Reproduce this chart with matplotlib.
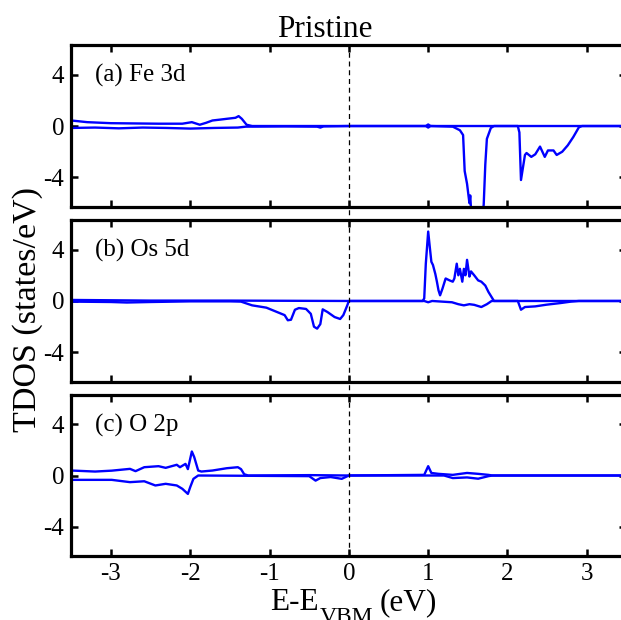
import numpy as np
import matplotlib.pyplot as plt
from matplotlib.lines import Line2D
from matplotlib.transforms import blended_transform_factory

plt.rcParams['font.family'] = ['Liberation Serif', 'DejaVu Serif']

# (energy, DOS) pairs, spin up (+) and spin down (-)
fe_up = [(-3.5, 0.43), (-3.3, 0.3), (-3.0, 0.22), (-2.7, 0.2), (-2.4, 0.18),
         (-2.1, 0.18), (-1.98, 0.3), (-1.88, 0.1), (-1.8, 0.25), (-1.72, 0.43),
         (-1.62, 0.5), (-1.54, 0.56), (-1.43, 0.64), (-1.39, 0.77), (-1.35, 0.56),
         (-1.29, 0.1), (-1.22, 0.0), (0.0, 0.0), (0.97, 0.0), (1.0, 0.12),
         (1.03, 0.0), (3.5, 0.0)]
fe_dn = [(-3.5, -0.15), (-3.2, -0.12), (-2.9, -0.18), (-2.6, -0.12), (-2.3, -0.15),
         (-2.0, -0.2), (-1.7, -0.15), (-1.4, -0.12), (-1.3, -0.05), (-0.8, -0.03),
         (-0.4, -0.05), (-0.36, -0.12), (-0.32, -0.03), (0.0, 0.0), (0.97, 0.0),
         (1.0, -0.12), (1.03, 0.0), (1.31, -0.05), (1.40, -0.33), (1.44, -0.7),
         (1.46, -3.5), (1.49, -4.5), (1.50, -5.0), (1.52, -6.0), (1.53, -5.4),
         (1.55, -7.5), (1.68, -7.5), (1.70, -6.1), (1.72, -3.0), (1.74, -1.0),
         (1.79, -0.15), (1.83, 0.0), (2.13, 0.0), (2.15, -0.5), (2.17, -4.2),
         (2.22, -2.25), (2.24, -2.1), (2.30, -2.4), (2.35, -2.2), (2.41, -1.6),
         (2.47, -2.4), (2.51, -1.9), (2.58, -1.9), (2.62, -2.25), (2.69, -2.0),
         (2.76, -1.5), (2.83, -0.85), (2.90, -0.1), (2.94, 0.0), (3.5, 0.0)]

os_up = [(-3.5, 0.08), (-2.5, 0.03), (-1.5, 0.03), (0.0, 0.0), (0.93, 0.0),
         (0.95, 0.2), (0.97, 2.9), (1.00, 5.4), (1.02, 4.2), (1.04, 3.05),
         (1.06, 2.8), (1.09, 2.1), (1.11, 1.5), (1.13, 0.83), (1.15, 0.44),
         (1.18, 0.96), (1.22, 1.75), (1.27, 1.6), (1.31, 1.5), (1.33, 1.75),
         (1.36, 2.9), (1.38, 2.0), (1.40, 2.5), (1.43, 1.5), (1.45, 2.5),
         (1.47, 2.0), (1.49, 3.2), (1.52, 1.9), (1.54, 2.3), (1.58, 2.0),
         (1.63, 1.6), (1.67, 1.5), (1.72, 1.2), (1.76, 0.7), (1.81, 0.2),
         (1.83, 0.0), (3.5, 0.0)]
os_dn = [(-3.5, -0.05), (-3.0, -0.08), (-2.8, -0.12), (-2.5, -0.08), (-2.0, -0.03),
         (-1.5, -0.03), (-1.36, -0.05), (-1.22, -0.34), (-1.04, -0.52), (-0.81, -1.1),
         (-0.77, -1.5), (-0.73, -1.46), (-0.68, -0.68), (-0.63, -0.55), (-0.54, -0.62),
         (-0.48, -1.0), (-0.44, -2.0), (-0.40, -2.15), (-0.36, -1.8), (-0.33, -0.65),
         (-0.27, -0.86), (-0.18, -1.25), (-0.11, -1.4), (-0.07, -1.1), (-0.02, -0.34),
         (0.0, 0.0), (0.95, 0.0), (1.0, -0.1), (1.05, 0.0), (1.3, -0.1),
         (1.38, -0.25), (1.45, -0.34), (1.52, -0.25), (1.58, -0.3), (1.67, -0.47),
         (1.74, -0.25), (1.8, 0.0), (2.13, 0.0), (2.17, -0.68), (2.22, -0.47),
         (2.35, -0.42), (2.49, -0.29), (2.67, -0.16), (2.8, -0.05), (2.9, 0.0),
         (3.5, 0.0)]

o_up = [(-3.5, 0.39), (-3.2, 0.31), (-2.99, 0.38), (-2.76, 0.52), (-2.69, 0.34),
        (-2.58, 0.65), (-2.4, 0.73), (-2.31, 0.6), (-2.17, 0.84), (-2.13, 0.65),
        (-2.06, 0.91), (-2.03, 0.5), (-1.98, 1.88), (-1.95, 1.44), (-1.90, 0.39),
        (-1.86, 0.31), (-1.72, 0.39), (-1.54, 0.57), (-1.40, 0.65), (-1.36, 0.5),
        (-1.32, 0.1), (-1.27, 0.0), (-0.5, 0.03), (0.0, 0.0), (0.95, 0.05),
        (1.0, 0.73), (1.04, 0.2), (1.13, 0.13), (1.31, 0.05), (1.49, 0.2),
        (1.63, 0.13), (1.76, 0.05), (1.81, 0.0), (3.5, 0.0)]
o_dn = [(-3.5, -0.34), (-2.99, -0.34), (-2.76, -0.52), (-2.58, -0.45), (-2.44, -0.78),
        (-2.31, -0.65), (-2.17, -0.78), (-2.1, -1.04), (-2.03, -1.44), (-2.0, -0.9),
        (-1.96, -0.26), (-1.90, 0.0), (-0.5, -0.05), (-0.42, -0.4), (-0.36, -0.2),
        (-0.23, -0.12), (-0.09, -0.26), (0.0, 0.0), (1.2, 0.0), (1.31, -0.2),
        (1.49, -0.15), (1.63, -0.25), (1.76, -0.05), (1.81, 0.0), (2.2, 0.0),
        (3.5, 0.0)]

panel_labels = ["(a) Fe 3d", "(b) Os 5d", "(c) O 2p"]
curves = [(fe_up, fe_dn), (os_up, os_dn), (o_up, o_dn)]
xticks = [-3, -2, -1, 0, 1, 2, 3]
yticks = [-4, 0, 4]

fig = plt.figure(figsize=(6.21, 6.20), dpi=100, facecolor="white")

# panel boxes (bottom, height) in figure fraction; right edge runs off the page
left, width = 0.1148, 0.894
boxes = [(0.6661, 0.2613), (0.3839, 0.2613), (0.1032, 0.2597)]

axes = []
for i, (bottom, height) in enumerate(boxes):
    ax = fig.add_axes([left, bottom, width, height])
    up, dn = curves[i]
    up = np.array(up).T
    dn = np.array(dn).T
    ax.plot(up[0], up[1], color="#0000ff", lw=1.7)
    ax.plot(dn[0], dn[1], color="#0000ff", lw=1.7)
    ax.set_xlim(-3.5, 3.5)
    ax.set_ylim(-6.3, 6.3)
    ax.set_xticks(xticks)
    ax.set_yticks(yticks)
    ax.set_yticklabels([str(t) for t in yticks])
    ax.tick_params(direction="in", length=5, width=1.8, top=True, right=True,
                   labelsize=18, pad=5)
    for s in ax.spines.values():
        s.set_linewidth(2.3)
    if i < 2:
        ax.set_xticklabels([])
    else:
        ax.set_xticklabels([str(t) for t in xticks])
    ax.text(0.043, 0.81, panel_labels[i], transform=ax.transAxes,
            fontsize=18, va="center", ha="left")
    axes.append(ax)

# dashed line at the VBM across all three panels
tr = blended_transform_factory(axes[0].transData, fig.transFigure)
fig.add_artist(Line2D([0, 0], [boxes[2][0], boxes[0][0] + boxes[0][1]],
                      transform=tr, color="black", lw=0.9, ls=(0, (4, 3))))

fig.text(325 / 621, 1 - 37 / 620, "Pristine", fontsize=22.5, ha="center",
         va="baseline")
fig.text(28 / 621, 0.5, "TDOS (states/eV)", fontsize=24.5, rotation=90,
         ha="center", va="center")

# x label with a deep subscript: E-E_VBM (eV), the subscript runs off the page
t1 = fig.text(270 / 621, 1 - 610 / 620, "E-E", fontsize=22.5, ha="left",
              va="baseline")
t2 = axes[2].annotate("VBM", xy=(1.0, 0.0), xycoords=t1, xytext=(0.5, -4),
                      textcoords="offset points", fontsize=17, ha="left",
                      va="baseline", annotation_clip=False)
axes[2].annotate("(eV)", xy=(1.0, 0.0), xycoords=(t2, t1), xytext=(5, 0),
                 textcoords="offset points", fontsize=22.5, ha="left",
                 va="bottom", annotation_clip=False)

plt.savefig("out.png", dpi=100)
